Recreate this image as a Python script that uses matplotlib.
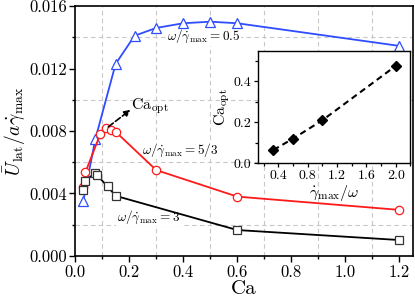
import numpy as np
import matplotlib
matplotlib.use("Agg")
import matplotlib.pyplot as plt
from matplotlib.ticker import MultipleLocator, FormatStrFormatter

plt.rcParams['font.family'] = 'serif'
plt.rcParams['font.serif'] = ['cmr10', 'DejaVu Serif']
plt.rcParams['mathtext.fontset'] = 'cm'
plt.rcParams['axes.formatter.use_mathtext'] = True

# omega / gamma_max = 0.5
ca_blue = [0.03, 0.075, 0.15, 0.22, 0.3, 0.4, 0.5, 0.6, 1.2]
u_blue = [0.0035, 0.0075, 0.0123, 0.0141, 0.0146, 0.0149, 0.0150, 0.0149, 0.01345]

# omega / gamma_max = 5/3
ca_red = [0.03, 0.038, 0.093, 0.116, 0.134, 0.15, 0.3, 0.6, 1.2]
u_red = [0.0044, 0.00535, 0.0078, 0.00818, 0.00806, 0.00795, 0.0055, 0.0038, 0.00295]

# omega / gamma_max = 3
ca_black = [0.031, 0.038, 0.072, 0.08, 0.12, 0.15, 0.6, 1.2]
u_black = [0.0042, 0.0048, 0.0053, 0.0052, 0.00445, 0.00385, 0.00166, 0.00102]

# inset: optimal Ca vs gamma_max / omega
ratio_inset = [1 / 3, 0.6, 1.0, 2.0]
ca_opt = [0.065, 0.12, 0.21, 0.476]

fig = plt.figure(figsize=(4.15, 3.04), dpi=100)
ax = fig.add_axes([0.181, 0.158, 0.814, 0.822])

ax.plot(ca_blue, u_blue, '-^', color='#2f4dff', lw=1.3, ms=6.5,
        mfc='white', mec='#2f4dff', mew=0.9, zorder=3)
ax.plot(ca_red, u_red, '-o', color='#ff1a1a', lw=1.3, ms=6,
        mfc='white', mec='#ff1a1a', mew=0.9, zorder=3)
ax.plot(ca_black, u_black, '-s', color='black', lw=1.3, ms=5.5,
        mfc='white', mec='#333333', mew=0.9, zorder=3)

ax.set_xlim(0, 1.25)
ax.set_ylim(0, 0.016)
ax.xaxis.set_major_locator(MultipleLocator(0.2))
ax.xaxis.set_minor_locator(MultipleLocator(0.1))
ax.yaxis.set_major_locator(MultipleLocator(0.004))
ax.yaxis.set_minor_locator(MultipleLocator(0.002))
ax.xaxis.set_major_formatter(FormatStrFormatter('%.1f'))
ax.yaxis.set_major_formatter(FormatStrFormatter('%.3f'))
ax.tick_params(which='both', direction='out', labelsize=12, width=1.0, pad=2)
ax.tick_params(which='major', length=4)
ax.tick_params(which='minor', length=2.5)
for s in ax.spines.values():
    s.set_linewidth(1.2)

# grid only on the minor ticks, as in the original
for xv in [0.1, 0.3, 0.5, 0.7, 0.9, 1.1]:
    ax.axvline(xv, color='#c8c8c8', lw=0.8, ls=(0, (4, 3)), zorder=0)
for yv in [0.002, 0.006, 0.010, 0.014]:
    ax.axhline(yv, color='#c8c8c8', lw=0.8, ls=(0, (4, 3)), zorder=0)

ax.set_xlabel('Ca', fontsize=15, labelpad=0)
ax.set_ylabel(r'$\bar{U}_{\rm lat}/a\dot{\gamma}_{\max}$', fontsize=14, labelpad=1)

bb = dict(facecolor='white', edgecolor='none', pad=0.5)
ax.text(0.34, 0.01403, r'$\omega/\dot{\gamma}_{\max}=0.5$', fontsize=9.5,
        va='center', ha='left', bbox=bb, zorder=2)
ax.text(0.246, 0.00678, r'$\omega/\dot{\gamma}_{\max}=5/3$', fontsize=9.5,
        va='center', ha='left', bbox=bb, zorder=2)
ax.text(0.154, 0.0025, r'$\omega/\dot{\gamma}_{\max}=3$', fontsize=9.5,
        va='center', ha='left', bbox=bb, zorder=2)

ax.text(0.207, 0.0096, r'${\rm Ca}_{\rm opt}$', fontsize=11.5, va='center', ha='left')
ax.annotate('', xy=(0.205, 0.00936), xytext=(0.123, 0.00827),
            arrowprops=dict(arrowstyle='-|>', ls='--', lw=1.2, color='black',
                            mutation_scale=9, shrinkA=0, shrinkB=0))

# inset
axin = fig.add_axes([0.621, 0.463, 0.368, 0.370])
axin.plot(ratio_inset, ca_opt, '--D', color='black', lw=1.5, ms=5.5,
          dashes=(3, 2))
axin.set_xlim(0.12, 2.2)
axin.set_ylim(0, 0.55)
axin.xaxis.set_major_locator(MultipleLocator(0.4))
axin.xaxis.set_minor_locator(MultipleLocator(0.2))
axin.yaxis.set_major_locator(MultipleLocator(0.2))
axin.yaxis.set_minor_locator(MultipleLocator(0.1))
axin.xaxis.set_major_formatter(FormatStrFormatter('%.1f'))
axin.yaxis.set_major_formatter(FormatStrFormatter('%.1f'))
axin.tick_params(which='both', direction='out', labelsize=10, width=0.9, pad=1.5)
axin.tick_params(which='major', length=3)
axin.tick_params(which='minor', length=2)
for s in axin.spines.values():
    s.set_linewidth(1.0)
axin.set_xlabel(r'$\dot{\gamma}_{\max}/\omega$', fontsize=11.5, labelpad=1)
axin.set_ylabel(r'${\rm Ca}_{\rm opt}$', fontsize=11.5, labelpad=1)

fig.savefig('out.png', dpi=100)
